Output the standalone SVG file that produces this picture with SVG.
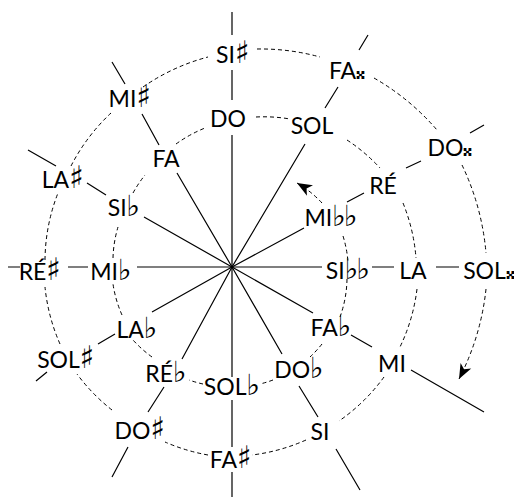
<svg xmlns="http://www.w3.org/2000/svg" width="514" height="497" viewBox="0 0 514 497">
  <style>
    .ray { stroke: #000; stroke-width: 1.2; fill: none; stroke-linecap: butt; }
    .sp { stroke: #000; stroke-width: 1; fill: none; stroke-dasharray: 4 3; }
    .lbl { font-family: Lato, "Open Sans", "Liberation Sans", sans-serif; font-size: 23px; fill: #000; text-anchor: middle; }
    .sh { font-family: "DejaVu Sans", sans-serif; font-size: 31px; }
    .fl { font-family: "DejaVu Sans", sans-serif; font-size: 29px; letter-spacing: -2px; }
    .dx { font-family: "DejaVu Sans", sans-serif; font-size: 20px; }
  </style>
  <defs>
    <marker id="head" markerUnits="userSpaceOnUse" markerWidth="18" markerHeight="14" viewBox="-16 -7 18 14" refX="0" refY="0" orient="auto">
      <path d="M0 0 L-15 -6 L-11 0 L-15 6 Z" fill="#000"/>
    </marker>
  </defs>
  <rect width="514" height="497" fill="#fff"/>

  <g id="connectors">
    <!-- twelve rays from the centre, broken around the labels -->
    <g id="rays">
      <path class="ray" d="M232 267V135M232 100V70M232 35V12"/>
      <path class="ray" d="M232 267L305 144M325 108L338 87M359 50L368 35"/>
      <path class="ray" d="M232 267L304 228M347 202L364 193M406 168L421 161M470 133L484 125"/>
      <path class="ray" d="M232 267H322M372 267H394M436 267H459"/>
      <path class="ray" d="M232 267L313 313M351 335L372 347M411 370L484 412"/>
      <path class="ray" d="M232 267L282 354M299 386L318 417M336 449L360 490"/>
      <path class="ray" d="M232 267V377M232 400V447M232 472V497"/>
      <path class="ray" d="M232 267L182 359M164 387L148 412M128 447L112 477"/>
      <path class="ray" d="M232 267L152 312M115 334L98 344M47 372L36 381"/>
      <path class="ray" d="M232 267H137M88 267H68M20 267H8"/>
      <path class="ray" d="M232 267L144 217M106 195L87 183M56 166L28 150"/>
      <path class="ray" d="M232 267L177 173M159 145L142 114M125 84L112 62"/>
    </g>
    <!-- spiral of fifths, dashed -->
    <g id="spiral">
      <path class="sp" marker-end="url(#head)" d="M322 203A108 108 0 0 0 297 183"/>
      <path class="sp" d="M343 236A116 116 0 0 1 348 262"/>
      <path class="sp" d="M347 279A117 117 0 0 1 340 317"/>
      <path class="sp" d="M322 344A118 118 0 0 1 310 357"/>
      <path class="sp" d="M273 380A120 120 0 0 1 260 384"/>
      <path class="sp" d="M203 384A121 121 0 0 1 189 380"/>
      <path class="sp" d="M152 357A121 121 0 0 1 133 340"/>
      <path class="sp" d="M122 315A120 120 0 0 1 113 284"/>
      <path class="sp" d="M113 258A120 120 0 0 1 118 227"/>
      <path class="sp" d="M133 193A125 125 0 0 1 145 175"/>
      <path class="sp" d="M176 144A138 138 0 0 1 205 128"/>
      <path class="sp" d="M256 117A155 155 0 0 1 290 119"/>
      <path class="sp" d="M347 140A175 175 0 0 1 380 168"/>
      <path class="sp" d="M403 203A184 184 0 0 1 416 258"/>
      <path class="sp" d="M417 289A186 186 0 0 1 400 347"/>
      <path class="sp" d="M384 377A188 188 0 0 1 339 421"/>
      <path class="sp" d="M306 440A189 189 0 0 1 252 455"/>
      <path class="sp" d="M208 455A189 189 0 0 1 165 442"/>
      <path class="sp" d="M112 410A188 188 0 0 1 77 374"/>
      <path class="sp" d="M60 344A188 188 0 0 1 45 287"/>
      <path class="sp" d="M45 260A188 188 0 0 1 58 193"/>
      <path class="sp" d="M71 166A193 193 0 0 1 111 113"/>
      <path class="sp" d="M143 87A206 206 0 0 1 208 57"/>
      <path class="sp" d="M257 49A223 223 0 0 1 320 57"/>
      <path class="sp" d="M374 78A241 241 0 0 1 437 130"/>
      <path class="sp" d="M462 165A253 253 0 0 1 486 253"/>
      <path class="sp" marker-end="url(#head)" d="M486 289A254 254 0 0 1 459 379"/>
    </g>
  </g>

  <!-- inner turn: flats -->
  <g id="n-mibb"><text class="lbl" x="330" y="226">MI<tspan class="fl">♭♭</tspan></text></g>
  <g id="n-sibb"><text class="lbl" x="347" y="279">SI<tspan class="fl">♭♭</tspan></text></g>
  <g id="n-fab"><text class="lbl" x="330" y="336">FA<tspan class="fl">♭</tspan></text></g>
  <g id="n-dob"><text class="lbl" x="298" y="378">DO<tspan class="fl">♭</tspan></text></g>
  <g id="n-solb"><text class="lbl" x="231" y="395">SOL<tspan class="fl">♭</tspan></text></g>
  <g id="n-reb"><text class="lbl" x="165" y="382">RÉ<tspan class="fl">♭</tspan></text></g>
  <g id="n-lab"><text class="lbl" x="136" y="338">LA<tspan class="fl">♭</tspan></text></g>
  <g id="n-mib"><text class="lbl" x="110" y="280">MI<tspan class="fl">♭</tspan></text></g>
  <g id="n-sib"><text class="lbl" x="123" y="216">SI<tspan class="fl">♭</tspan></text></g>
  <g id="n-fa"><text class="lbl" x="166" y="167">FA</text></g>

  <!-- middle turn: naturals -->
  <g id="n-do"><text class="lbl" x="228" y="127">DO</text></g>
  <g id="n-sol"><text class="lbl" x="312" y="134">SOL</text></g>
  <g id="n-re"><text class="lbl" x="383" y="194">RÉ</text></g>
  <g id="n-la"><text class="lbl" x="413" y="279">LA</text></g>
  <g id="n-mi"><text class="lbl" x="392" y="372">MI</text></g>
  <g id="n-si"><text class="lbl" x="320" y="440">SI</text></g>

  <!-- outer turn: sharps -->
  <g id="n-fas"><text class="lbl" x="231" y="468">FA<tspan class="sh">♯</tspan></text></g>
  <g id="n-dos"><text class="lbl" x="140" y="439">DO<tspan class="sh">♯</tspan></text></g>
  <g id="n-sols"><text class="lbl" x="66" y="368">SOL<tspan class="sh">♯</tspan></text></g>
  <g id="n-res"><text class="lbl" x="40" y="280">RÉ<tspan class="sh">♯</tspan></text></g>
  <g id="n-las"><text class="lbl" x="63" y="188">LA<tspan class="sh">♯</tspan></text></g>
  <g id="n-mis"><text class="lbl" x="130" y="107">MI<tspan class="sh">♯</tspan></text></g>
  <g id="n-sis"><text class="lbl" x="233" y="63">SI<tspan class="sh">♯</tspan></text></g>

  <!-- double sharps -->
  <g id="n-fax"><text class="lbl" x="347" y="79">FA<tspan class="dx">𝄪</tspan></text></g>
  <g id="n-dox"><text class="lbl" x="450" y="156">DO<tspan class="dx">𝄪</tspan></text></g>
  <g id="n-solx"><text class="lbl" x="489" y="279">SOL<tspan class="dx">𝄪</tspan></text></g>
</svg>
